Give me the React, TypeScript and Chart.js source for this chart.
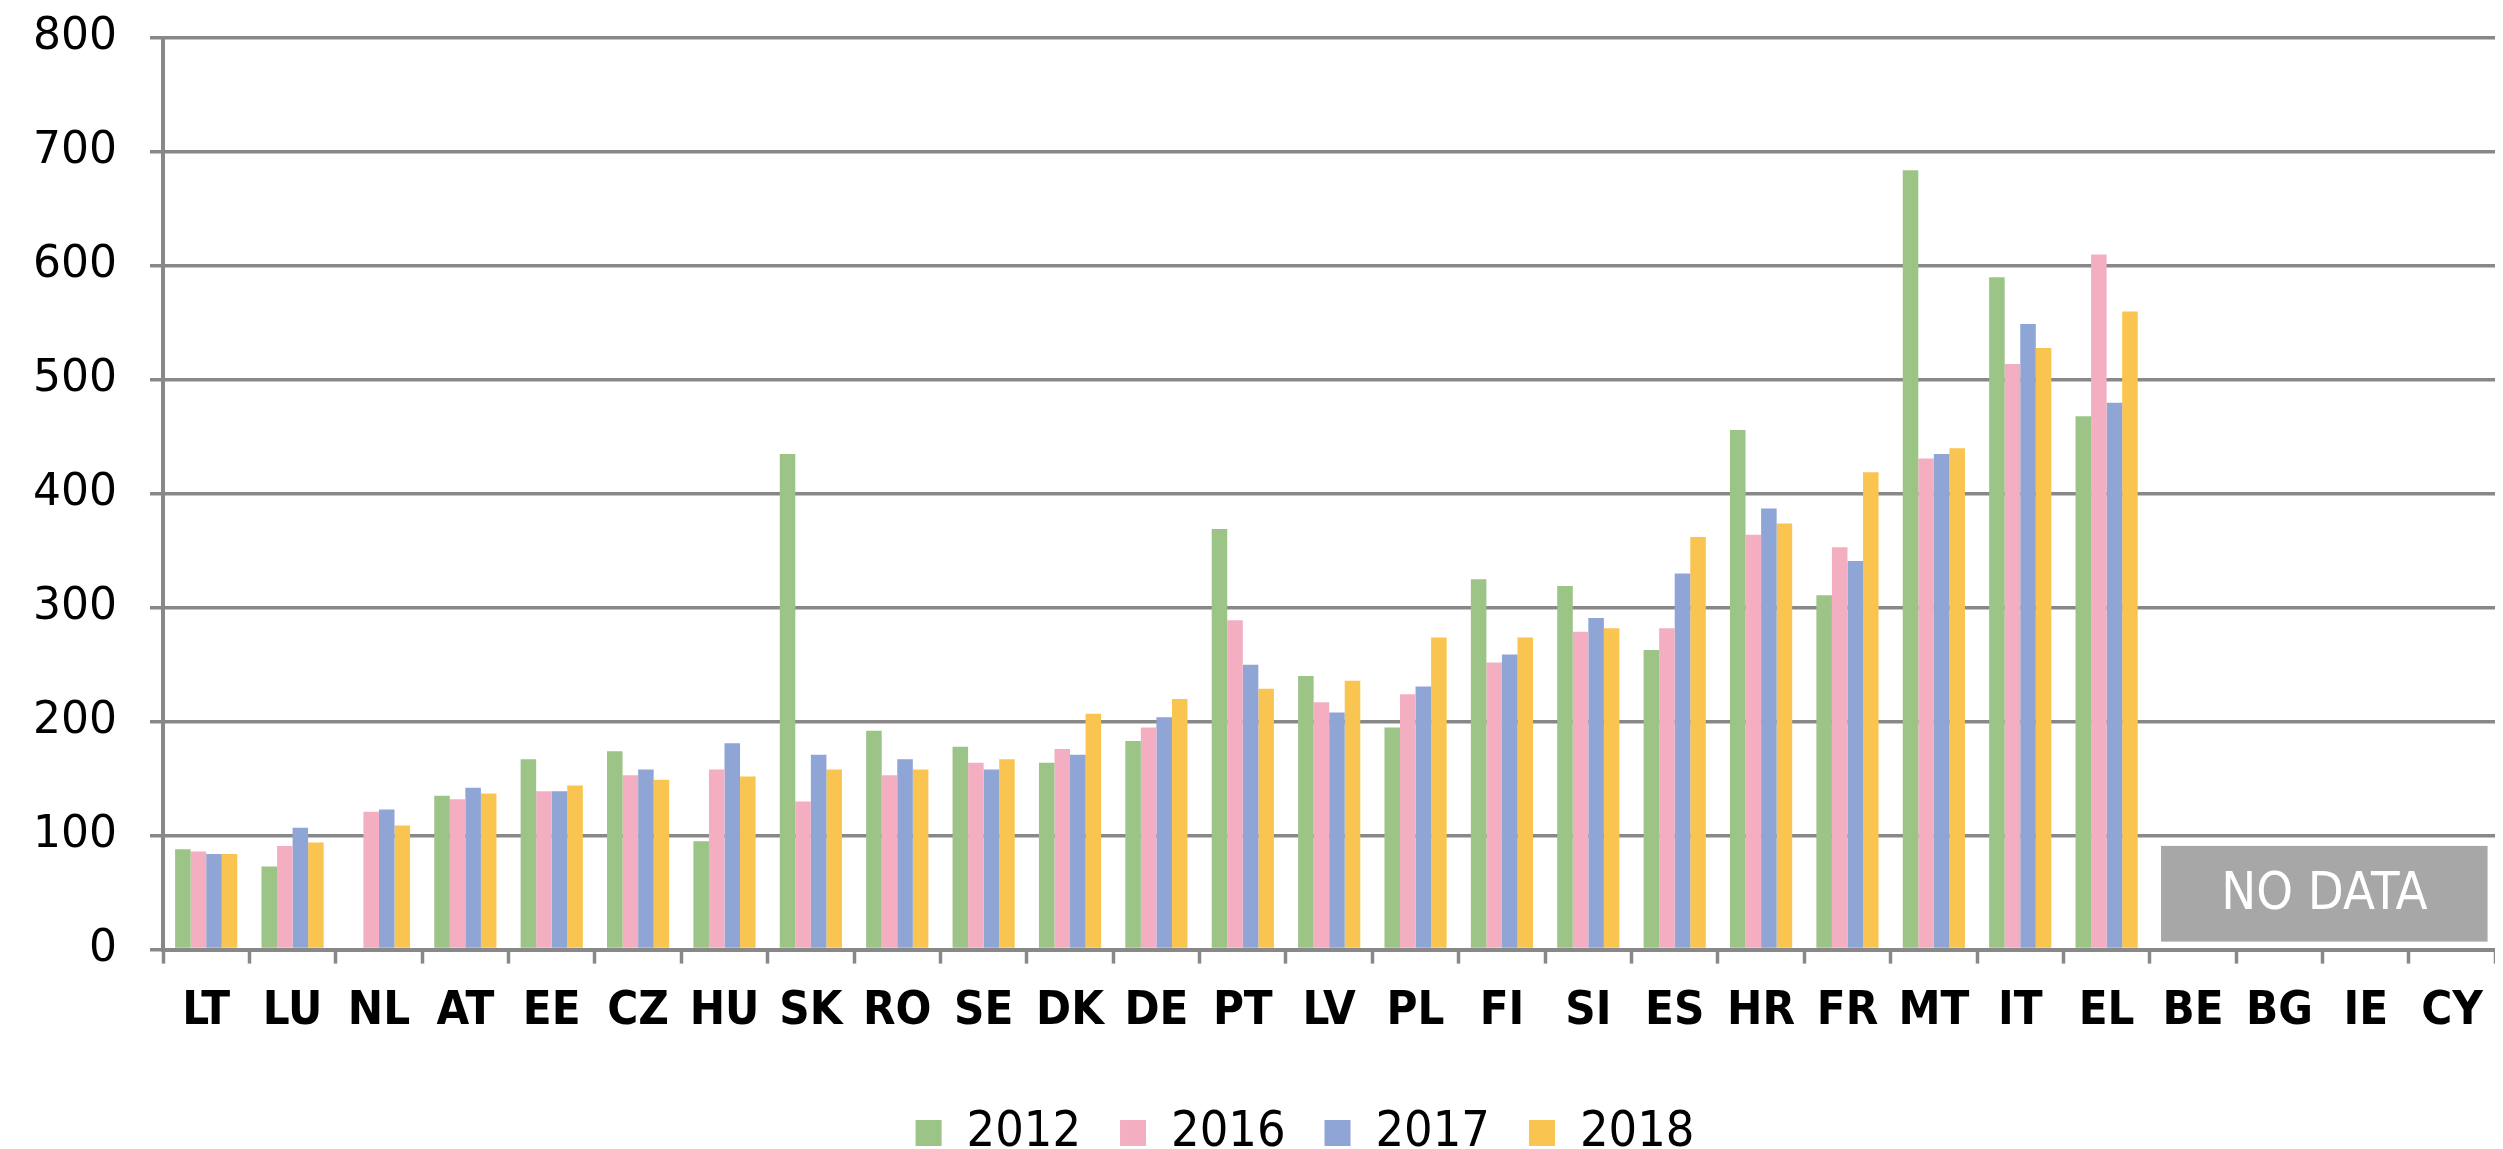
import React, { useEffect, useRef } from "react";
import { Chart, registerables } from "chart.js";

Chart.register(...registerables);

const categories = ["LT", "LU", "NL", "AT", "EE", "CZ", "HU", "SK", "RO", "SE", "DK", "DE", "PT", "LV", "PL", "FI", "SI", "ES", "HR", "FR", "MT", "IT", "EL", "BE", "BG", "IE", "CY"];

const values2012 = [88, 73, null, 135, 167, 174, 95, 435, 192, 178, 164, 183, 369, 240, 195, 325, 319, 263, 456, 311, 684, 590, 468, null, null, null, null];
const values2016 = [86, 91, 121, 132, 139, 153, 158, 130, 153, 164, 176, 195, 289, 217, 224, 252, 279, 282, 364, 353, 431, 514, 610, null, null, null, null];
const values2017 = [84, 107, 123, 142, 139, 158, 181, 171, 167, 158, 171, 204, 250, 208, 231, 259, 291, 330, 387, 341, 435, 549, 480, null, null, null, null];
const values2018 = [84, 94, 109, 137, 144, 149, 152, 158, 158, 167, 207, 220, 229, 236, 274, 274, 282, 362, 374, 419, 440, 528, 560, null, null, null, null];

const seriesLabels = ["2012", "2016", "2017", "2018"];
const seriesColors = ["#9cc487", "#f3afc1", "#8ea5d5", "#f9c550"];

const yTicks = { min: 0, max: 800, step: 100 };

// "NO DATA" annotation, in data units (category index, value)
const noDataText = "NO DATA";
const noDataRange = { xFrom: 22.63, xTo: 26.41, yFrom: 7, yTo: 91 };

const GRID = "#888888";
const CONDENSED = "'DejaVu Sans Condensed', 'DejaVu Sans'";
const LEGEND_SHIFT_X = 50;
const LEGEND_SHIFT_Y = 9;

const noDataPlugin = {
  id: "noData",
  afterDatasetsDraw(chart: any) {
    const { ctx, scales } = chart;
    const x = scales.x;
    const y = scales.y;
    const l = x.getPixelForValue(noDataRange.xFrom);
    const r = x.getPixelForValue(noDataRange.xTo);
    const t = y.getPixelForValue(noDataRange.yTo);
    const b = y.getPixelForValue(noDataRange.yFrom);
    ctx.save();
    ctx.fillStyle = "#a7a7a7";
    ctx.fillRect(l, t, r - l, b - t);
    ctx.fillStyle = "#ffffff";
    ctx.font = "52px " + CONDENSED;
    ctx.textAlign = "center";
    ctx.textBaseline = "middle";
    ctx.fillText(noDataText, (l + r) / 2, (t + b) / 2 + 2);
    ctx.restore();
  },
};

const legendShiftPlugin = {
  id: "legendShift",
  afterLayout(chart: any) {
    const lg = chart.legend;
    if (lg) {
      lg.left += LEGEND_SHIFT_X;
      lg.right += LEGEND_SHIFT_X;
      lg.top += LEGEND_SHIFT_Y;
      lg.bottom += LEGEND_SHIFT_Y;
    }
  },
};

export default function App() {
  const ref = useRef<HTMLCanvasElement | null>(null);

  useEffect(() => {
    document.body.style.overflow = "hidden";
    const data = [values2012, values2016, values2017, values2018];
    const chart = new Chart(ref.current as HTMLCanvasElement, {
      type: "bar",
      data: {
        labels: categories,
        datasets: seriesLabels.map((lab, i) => ({
          label: lab,
          data: data[i],
          backgroundColor: seriesColors[i],
          borderWidth: 0,
          categoryPercentage: 0.72,
          barPercentage: 1.0,
        })),
      },
      options: {
        animation: false,
        responsive: true,
        maintainAspectRatio: false,
        layout: { padding: { top: 30, right: 1, left: 0, bottom: 0 } },
        plugins: {
          legend: {
            position: "bottom",
            labels: {
              boxWidth: 26,
              boxHeight: 26,
              padding: 39,
              color: "#000",
              font: { family: CONDENSED, size: 50 },
            },
          },
          tooltip: { enabled: false },
        },
        scales: {
          x: {
            grid: {
              offset: true,
              drawOnChartArea: false,
              drawTicks: true,
              tickLength: 14,
              tickColor: GRID,
              tickWidth: 3.5,
            },
            border: { color: GRID, width: 4 },
            ticks: {
              color: "#000",
              padding: 20,
              maxRotation: 0,
              autoSkip: false,
              font: { family: CONDENSED, size: 47, weight: "bold" },
            },
          },
          y: {
            min: yTicks.min,
            max: yTicks.max,
            afterFit: (scale: any) => {
              scale.width = 155;
              scale.paddingTop = 0;
              scale.paddingBottom = 0;
            },
            grid: {
              color: GRID,
              lineWidth: 3.5,
              tickLength: 13,
              tickColor: GRID,
            },
            border: { color: GRID, width: 4 },
            ticks: {
              stepSize: yTicks.step,
              color: "#000",
              padding: 33,
              font: { family: "'DejaVu Sans'", size: 44 },
            },
          },
        },
      },
      plugins: [noDataPlugin, legendShiftPlugin],
    });
    return () => chart.destroy();
  }, []);

  return (
    <div style={{ width: 2495, height: 1141, overflow: "hidden" }}>
      <div style={{ width: 2495, height: 1151, position: "relative" }}>
        <canvas ref={ref} />
      </div>
    </div>
  );
}
